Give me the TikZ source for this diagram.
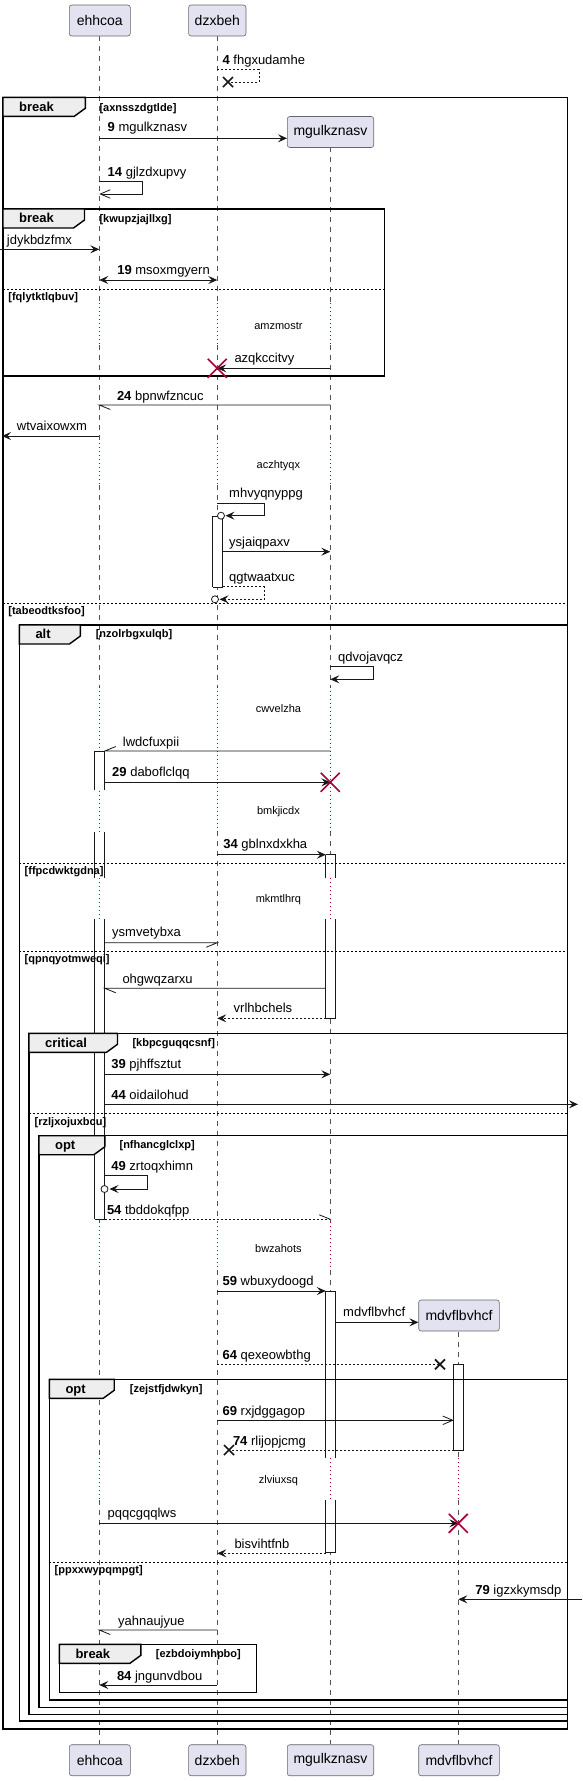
\documentclass[tikz,border=0pt]{standalone}
\usepackage{fontspec}
\setmainfont{Liberation Sans}
\usetikzlibrary{arrows.meta}
\definecolor{pfill}{HTML}{E2E2F0}
\definecolor{tabfill}{HTML}{EEEEEE}
\definecolor{dlred}{HTML}{A80036}
\definecolor{ink}{HTML}{181818}
\tikzset{
  pbox/.style={draw=black!60, fill=pfill, rounded corners=2.5pt, line width=0.6pt,
    minimum height=31pt, inner sep=0pt, font=\fontsize{14}{16}\selectfont},
  lifeln/.style={draw=ink!75, line width=0.5pt, dash pattern=on 5pt off 5pt},
  delayln/.style={draw=dlred, line width=0.7pt, dash pattern=on 1pt off 3pt},
  actln/.style={draw=ink, line width=0.8pt},
  frm/.style={draw=black, line width=1.4pt},
  elsln/.style={draw=black, line width=0.8pt, dash pattern=on 2pt off 2pt},
  msg/.style={draw=ink, line width=0.8pt, -{Stealth[length=9pt,width=8pt,inset=3.5pt]}},
  rmsg/.style={msg, dash pattern=on 2pt off 2pt},
  dbl/.style={draw=ink, line width=0.8pt, {Stealth[length=9pt,width=8pt,inset=3.5pt]}-{Stealth[length=9pt,width=8pt,inset=3.5pt]}},
  opn/.style={draw=ink, line width=0.8pt, -{Straight Barb[length=10pt,width=8.5pt]}},
  hmsg/.style={draw=ink, line width=0.8pt},
  rhmsg/.style={hmsg, dash pattern=on 2pt off 2pt},
  lbl/.style={anchor=west, inner sep=0pt, font=\fontsize{13}{15}\selectfont, text height=9.4pt, text depth=2.8pt},
  grd/.style={anchor=west, inner sep=0pt, font=\bfseries\fontsize{11}{13}\selectfont, text height=8pt, text depth=2.3pt},
  kw/.style={anchor=west, inner sep=0pt, font=\bfseries\fontsize{13}{15}\selectfont, text height=9.4pt, text depth=2.8pt},
  dlytxt/.style={inner sep=0pt, font=\fontsize{11}{13}\selectfont, text height=8pt, text depth=2.3pt}
}
% red cross of a destroyed lifeline, black cross of a lost message
\def\killx(#1){\draw[dlred, line width=1.6pt] (#1) ++(-9.5,-9.5) -- ++(19,19) ++(0,-19) -- ++(-19,19);}
\def\lostx(#1){\draw[ink, line width=1.7pt] (#1) ++(-5,-5) -- ++(10,10) ++(0,-10) -- ++(-10,10);}
% activation segment: left x, top, bottom, closed top, closed bottom
\newcommand\actseg[5]{%
  \fill[white] (#1,#2) rectangle (#1+10,#3);
  \draw[actln] (#1,#2) -- (#1,#3) (#1+10,#2) -- (#1+10,#3);
  \ifnum#4=1\relax \draw[actln] (#1,#2) -- (#1+10,#2);\fi
  \ifnum#5=1\relax \draw[actln] (#1,#3) -- (#1+10,#3);\fi}
% group frame: name, left, top, right, bottom, tab right, keyword
\newcommand\grpframe[7]{%
  \draw[frm] (#2,#3) rectangle (#4,#5);
  \draw[frm, fill=tabfill] (#2,#3) -- (#6,#3) -- (#6,#3+11) -- (#6-11,#3+19) -- (#2,#3+19) -- cycle;
  \node[kw] (#1) at (#2+16,#3+10.5) {#7};}

\begin{document}
\begin{tikzpicture}[x=1pt, y=-1pt]
  %%%%% START %%%%%
  \useasboundingbox (0,0) rectangle (582,1781);

  \coordinate (A) at (99.3,0);
  \coordinate (B) at (217.3,0);
  \coordinate (C) at (330.3,0);
  \coordinate (D) at (458.3,0);
  \coordinate (Ar) at (104.8,0);
  \coordinate (Bl) at (212.8,0);
  \coordinate (Br) at (222.8,0);
  \coordinate (Cl) at (325.8,0);
  \coordinate (Cr) at (335.8,0);
  \coordinate (Dl) at (453.8,0);

  % lifelines
  \foreach \a/\b in {35.7/303, 345/443.3, 485/686.7, 831/878.3, 919/1222, 1270/1458.3, 1500/1744.3}
    \draw[lifeln] (A |- 0,\a) -- (A |- 0,\b);
  \foreach \a/\b in {35.7/303, 345/443.3, 485/686.7, 831/1222, 1270/1744.3}
    \draw[lifeln] (B |- 0,\a) -- (B |- 0,\b);
  \foreach \a/\b in {147.3/303, 345/443.3, 485/686.7, 831/878.3, 919/1222, 1270/1458.3, 1500/1744.3}
    \draw[lifeln] (C |- 0,\a) -- (C |- 0,\b);
  \foreach \a/\b in {1331.7/1458.3, 1500/1744.3}
    \draw[lifeln] (D |- 0,\a) -- (D |- 0,\b);
  \foreach \a/\b in {303/345, 443.3/485, 686.7/831, 878.3/919, 1222/1270, 1458.3/1500}
    \draw[delayln] (A |- 0,\a) -- (A |- 0,\b);
  \foreach \a/\b in {303/345, 443.3/485, 686.7/831, 1222/1270}
    \draw[delayln] (B |- 0,\a) -- (B |- 0,\b);
  \foreach \a/\b in {303/345, 443.3/485, 686.7/831, 878.3/919, 1222/1270, 1458.3/1500}
    \draw[delayln] (C |- 0,\a) -- (C |- 0,\b);
  \draw[delayln] (D |- 0,1458.3) -- (D |- 0,1500);

  % participants
  \node[pbox, minimum width=61pt] (pA) at (99.8,20.5) {ehhcoa};
  \node[pbox, minimum width=57.3pt] (pB) at (217.3,20.5) {dzxbeh};
  \node[pbox, minimum width=86.4pt] (pC) at (330.5,132) {mgulkznasv};
  \node[pbox, minimum width=80.6pt] (pD) at (459,1315.5) {mdvflbvhcf};
  \node[pbox, minimum width=61pt] (qA) at (99.8,1760.2) {ehhcoa};
  \node[pbox, minimum width=57.3pt] (qB) at (217.3,1760.2) {dzxbeh};
  \node[pbox, minimum width=86.4pt] (qC) at (330.5,1760.2) {mgulkznasv};
  \node[pbox, minimum width=80.6pt] (qD) at (459,1760.2) {mdvflbvhcf};

  % activations
  \actseg{94.8}{751}{790}{1}{0}
  \actseg{94.8}{831.7}{878.3}{0}{0}
  \actseg{94.8}{919}{1219.3}{0}{1}
  \actseg{212.8}{516}{587.3}{1}{1}
  \actseg{325.8}{854.7}{878.3}{1}{0}
  \actseg{325.8}{919}{1018.3}{0}{1}
  \actseg{325.8}{1291}{1458.3}{1}{0}
  \actseg{325.8}{1500}{1552.7}{0}{1}
  \actseg{453.8}{1364.3}{1450}{1}{1}

  % frames
  \grpframe{kwA}{3}{97.3}{567.5}{1729}{85.3}{break}
  \grpframe{kwB}{3}{209}{384.4}{376}{84.5}{break}
  \grpframe{kwC}{19.3}{625}{567.5}{1721}{80.4}{alt}
  \grpframe{kwD}{28.9}{1033.3}{567.5}{1714.3}{117.5}{critical}
  \grpframe{kwE}{38.9}{1135.7}{567.5}{1707.3}{104.9}{opt}
  \grpframe{kwF}{49.3}{1379.3}{567.5}{1700}{114.2}{opt}
  \grpframe{kwG}{59.3}{1644.3}{256.2}{1692.7}{140.9}{break}
  \draw[elsln] (3,289) -- (384.4,289);
  \draw[elsln] (3,603.3) -- (567.5,603.3);
  \draw[elsln] (19.3,863.3) -- (567.5,863.3);
  \draw[elsln] (19.3,951.7) -- (567.5,951.7);
  \draw[elsln] (28.9,1113.3) -- (567.5,1113.3);
  \draw[elsln] (49.3,1562.3) -- (567.5,1562.3);

  \node[grd] (g1) at (99.3,108.3) {[axnsszdgtlde]};
  \node[grd] (g2) at (99.3,219.7) {[kwupzjajllxg]};
  \node[grd] (g3) at (8.2,297.7) {[fqlytktlqbuv]};
  \node[grd] (g4) at (8.2,611.7) {[tabeodtksfoo]};
  \node[grd] (g5) at (95.6,635) {[nzolrbgxulqb]};
  \node[grd] (g6) at (24.5,871.7) {[ffpcdwktgdna]};
  \node[grd] (g7) at (24.5,960) {[qpnqyotmweqi]};
  \node[grd] (g8) at (132.3,1043.3) {[kbpcguqqcsnf]};
  \node[grd] (g9) at (34.5,1122.7) {[rzljxojuxbcu]};
  \node[grd] (g10) at (119.4,1145.7) {[nfhancglclxp]};
  \node[grd] (g11) at (129.7,1390) {[zejstfjdwkyn]};
  \node[grd] (g12) at (54.5,1570.7) {[ppxxwypqmpgt]};
  \node[grd] (g13) at (155.7,1654.3) {[ezbdoiymhpbo]};

  % delays
  \node[dlytxt] (d1) at (278.4,326.7) {amzmostr};
  \node[dlytxt] (d2) at (278.4,465.7) {aczhtyqx};
  \node[dlytxt] (d3) at (278.4,709.3) {cwvelzha};
  \node[dlytxt] (d4) at (278.4,811.7) {bmkjicdx};
  \node[dlytxt] (d5) at (278.4,900) {mkmtlhrq};
  \node[dlytxt] (d6) at (278.4,1249.3) {bwzahots};
  \node[dlytxt] (d7) at (278.4,1480.7) {zlviuxsq};

  % messages
  \coordinate (lft1) at (0,249.3);
  \coordinate (lft2) at (2,436);
  \coordinate (rgt1) at (578,1104.3);
  \coordinate (rgt2) at (582,1599.3);

  \draw[rmsg, -] (B |- 0,69.3) -- (259,69.3) -- (259,82) -- (228,82);
  \lostx(228,82)
  \draw[msg] (A |- 0,138.3) -- (pC.west |- 0,138.3);
  \draw[opn] (A |- 0,181.7) -- (142,181.7) -- (142,194) -- (A |- 0,194);
  \draw[msg] (lft1) -- (A |- lft1);
  \draw[dbl] (A |- 0,280) -- (B |- 0,280);
  \draw[msg] (C |- 0,368.3) -- (B |- 0,368.3);
  \killx(B |- 0,368.3)
  \draw[hmsg] (C |- 0,405) -- (A |- 0,405) -- ++(11,4.5);
  \draw[msg] (A |- lft2) -- (lft2);
  \draw[msg] (B |- 0,503.3) -- (264,503.3) -- (264,515.7) -- (225.5,515.7);
  \draw[actln, fill=white] (221,515.7) circle (3.5);
  \draw[msg] (Br |- 0,551.7) -- (C |- 0,551.7);
  \draw[rmsg] (Br |- 0,586.7) -- (264,586.7) -- (264,599.3) -- (219.5,599.3);
  \draw[actln, fill=white] (215,599.3) circle (3.5);
  \draw[msg] (C |- 0,666.7) -- (373,666.7) -- (373,679.3) -- (C |- 0,679.3);
  \draw[hmsg] (C |- 0,751) -- (Ar |- 0,751) -- ++(11,-4.5);
  \draw[msg] (Ar |- 0,782.3) -- (C |- 0,782.3);
  \killx(C |- 0,782.3)
  \draw[msg] (B |- 0,854.7) -- (Cl |- 0,854.7);
  \draw[hmsg] (Ar |- 0,942.7) -- (B |- 0,942.7) -- ++(-11,4.5);
  \draw[hmsg] (Cl |- 0,988.3) -- (Ar |- 0,988.3) -- ++(11,4.5);
  \draw[rmsg] (Cl |- 0,1018.3) -- (B |- 0,1018.3);
  \draw[msg] (Ar |- 0,1074.3) -- (C |- 0,1074.3);
  \draw[msg] (Ar |- rgt1) -- (rgt1);
  \draw[msg] (Ar |- 0,1175.7) -- (147.5,1175.7) -- (147.5,1189) -- (109.5,1189);
  \draw[actln, fill=white] (104.5,1189) circle (3.5);
  \draw[rhmsg] (Ar |- 0,1219.3) -- (C |- 0,1219.3);
  \draw[hmsg] (C |- 0,1219.3) -- ++(-11,-4.5);
  \draw[msg] (B |- 0,1291) -- (Cl |- 0,1291);
  \draw[msg] (Cr |- 0,1322.3) -- (pD.west |- 0,1322.3);
  \draw[rmsg, -] (B |- 0,1364.3) -- (440,1364.3);
  \lostx(440,1364.3)
  \draw[opn] (B |- 0,1420.3) -- (Dl |- 0,1420.3);
  \draw[rmsg, -] (Dl |- 0,1450) -- (229,1450);
  \lostx(229,1450)
  \draw[msg] (A |- 0,1523.3) -- (D |- 0,1523.3);
  \killx(D |- 0,1523.3)
  \draw[rmsg] (Cl |- 0,1553.3) -- (B |- 0,1553.3);
  \draw[msg] (rgt2) -- (D |- rgt2);
  \draw[hmsg] (B |- 0,1630) -- (A |- 0,1630) -- ++(11,4.5);
  \draw[msg] (B |- 0,1685) -- (A |- 0,1685);

  % message labels
  \node[lbl] (m4) at (222.4,61.3) {\textbf{4} fhgxudamhe};
  \node[lbl] (m9) at (107.5,128.3) {\textbf{9} mgulkznasv};
  \node[lbl] (m14) at (107.5,173.3) {\textbf{14} gjlzdxupvy};
  \node[lbl] (mj) at (6.7,241) {jdykbdzfmx};
  \node[lbl] (m19) at (117.1,271) {\textbf{19} msoxmgyern};
  \node[lbl] (mz) at (234.3,359) {azqkccitvy};
  \node[lbl] (m24) at (116.8,396.7) {\textbf{24} bpnwfzncuc};
  \node[lbl] (mw) at (16.7,426.7) {wtvaixowxm};
  \node[lbl] (mh) at (229,494.3) {mhvyqnyppg};
  \node[lbl] (ms) at (229,543.3) {ysjaiqpaxv};
  \node[lbl] (mq) at (229,578) {qgtwaatxuc};
  \node[lbl] (mv) at (338,658.3) {qdvojavqcz};
  \node[lbl] (ml) at (122.7,743.3) {lwdcfuxpii};
  \node[lbl] (m29) at (112,773.3) {\textbf{29} daboflclqq};
  \node[lbl] (m34) at (223.2,845) {\textbf{34} gblnxdxkha};
  \node[lbl] (my) at (112,933.3) {ysmvetybxa};
  \node[lbl] (mo) at (122.3,980) {ohgwqzarxu};
  \node[lbl] (mr) at (233.5,1009.3) {vrlhbchels};
  \node[lbl] (m39) at (111.2,1065) {\textbf{39} pjhffsztut};
  \node[lbl] (m44) at (111.2,1095.7) {\textbf{44} oidailohud};
  \node[lbl] (m49) at (111.2,1167.3) {\textbf{49} zrtoqxhimn};
  \node[lbl] (m54) at (106.8,1211) {\textbf{54} tbddokqfpp};
  \node[lbl] (m59) at (222.4,1282.3) {\textbf{59} wbuxydoogd};
  \node[lbl] (mm) at (343,1312.7) {mdvflbvhcf};
  \node[lbl] (m64) at (222.4,1355.7) {\textbf{64} qexeowbthg};
  \node[lbl] (m69) at (222.4,1411.7) {\textbf{69} rxjdggagop};
  \node[lbl] (m74) at (232.8,1441.7) {\textbf{74} rlijopjcmg};
  \node[lbl] (mp) at (107.5,1514) {pqqcgqqlws};
  \node[lbl] (mb) at (234.3,1545) {bisvihtfnb};
  \node[lbl] (m79) at (475.2,1591) {\textbf{79} igzxkymsdp};
  \node[lbl] (ma) at (117.9,1621.7) {yahnaujyue};
  \node[lbl] (m84) at (116.8,1676.7) {\textbf{84} jngunvdbou};
  %%%%% END %%%%%
\end{tikzpicture}
\end{document}
